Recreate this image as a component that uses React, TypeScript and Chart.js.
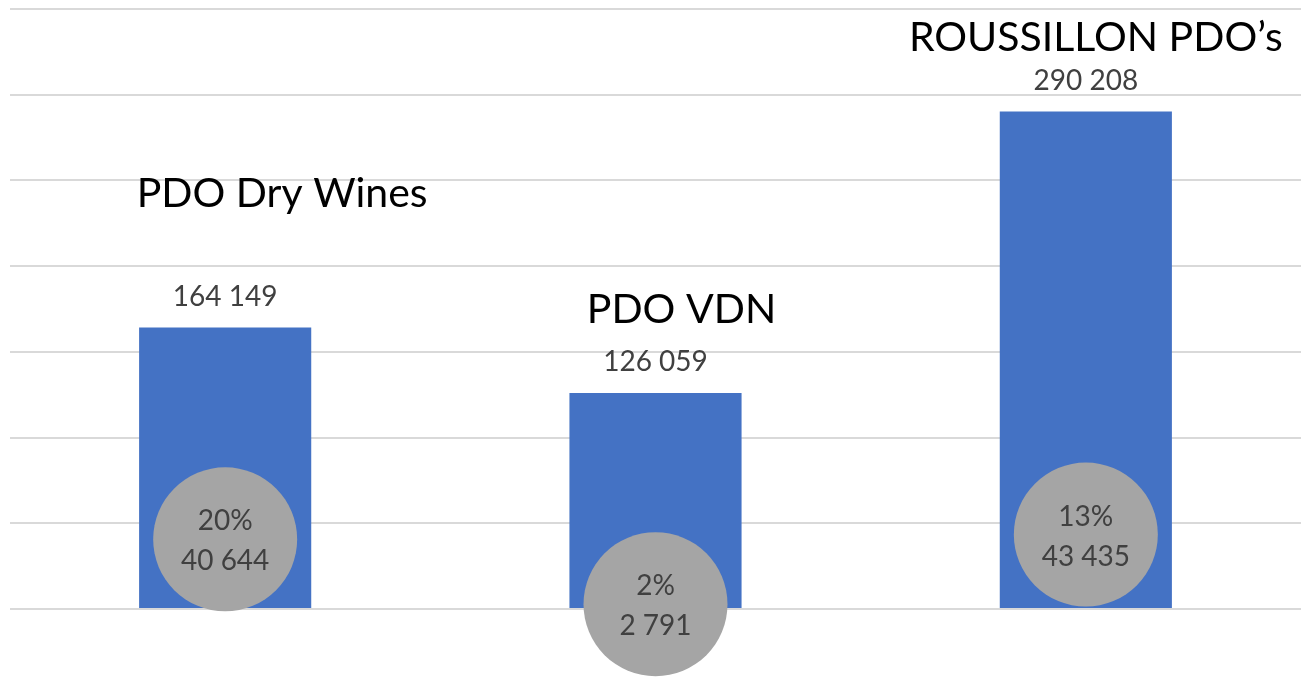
import React, { useEffect, useRef } from "react";
import { Chart, registerables } from "chart.js";

Chart.register(...registerables);

const categories = ["PDO Dry Wines", "PDO VDN", "ROUSSILLON PDO’s"];
const totalValues = [164149, 126059, 290208];
const subValues = [40644, 2791, 43435];
const subPercents = ["20%", "2%", "13%"];
const yMax = 350000;
const yStep = 50000;

// layout of the category titles relative to bar top (pixels)
const titleOffsets = [
  { dx: 57, dy: -121 },
  { dx: 26, dy: -70 },
  { dx: 10, dy: -61 },
];

const FONT = "Lato, 'Open Sans', sans-serif";

const fmt = (v: number) =>
  String(v).replace(/\B(?=(\d{3})+(?!\d))/g, " ");

const labelsPlugin = {
  id: "customLabels",
  afterDatasetsDraw(chart: any) {
    const ctx = chart.ctx;
    const barMeta = chart.getDatasetMeta(0);
    const ptMeta = chart.getDatasetMeta(1);
    ctx.save();
    ctx.textAlign = "center";
    ctx.textBaseline = "alphabetic";
    barMeta.data.forEach((bar: any, i: number) => {
      const x = bar.x;
      const top = bar.y;
      ctx.fillStyle = "#404040";
      ctx.font = `28px ${FONT}`;
      ctx.fillText(fmt(totalValues[i]), x, top - 22);
      ctx.fillStyle = "#000000";
      ctx.font = `41px ${FONT}`;
      ctx.fillText(categories[i], x + titleOffsets[i].dx, top + titleOffsets[i].dy);
      const pt = ptMeta.data[i];
      ctx.fillStyle = "#404040";
      ctx.font = `28px ${FONT}`;
      ctx.fillText(subPercents[i], pt.x, pt.y - 9);
      ctx.fillText(fmt(subValues[i]), pt.x, pt.y + 31);
    });
    ctx.restore();
  },
};

export default function App() {
  const ref = useRef<HTMLCanvasElement>(null);
  useEffect(() => {
    if (!ref.current) return;
    const chart = new Chart(ref.current, {
      type: "bar",
      data: {
        labels: categories,
        datasets: [
          {
            type: "bar",
            data: totalValues,
            backgroundColor: "#4472C4",
            categoryPercentage: 0.8,
            barPercentage: 0.5,
            order: 2,
          },
          {
            type: "line",
            data: subValues,
            showLine: false,
            pointRadius: 72,
            pointHoverRadius: 72,
            pointBackgroundColor: "#A5A5A5",
            pointBorderWidth: 0,
            pointBorderColor: "#A5A5A5",
            clip: false,
            order: 1,
          } as any,
        ],
      },
      options: {
        animation: false,
        responsive: false,
        maintainAspectRatio: false,
        layout: { autoPadding: false, padding: { left: 10, top: 9, right: 0, bottom: 70 } },
        plugins: {
          legend: { display: false },
          tooltip: { enabled: false },
        },
        events: [],
        scales: {
          x: { display: false, offset: true },
          y: {
            min: 0,
            max: yMax,
            ticks: { display: false, stepSize: yStep },
            border: { display: false },
            grid: { color: "#D9D9D9", lineWidth: 2, drawTicks: false },
            afterFit: (axis: any) => {
              axis.width = 0;
            },
          },
        },
      },
      plugins: [labelsPlugin],
    });
    return () => chart.destroy();
  }, []);
  return (
    <div style={{ position: "fixed", left: 0, top: 0, width: 1301, height: 679, background: "#fff" }}>
      <canvas ref={ref} width={1301} height={679} />
    </div>
  );
}
